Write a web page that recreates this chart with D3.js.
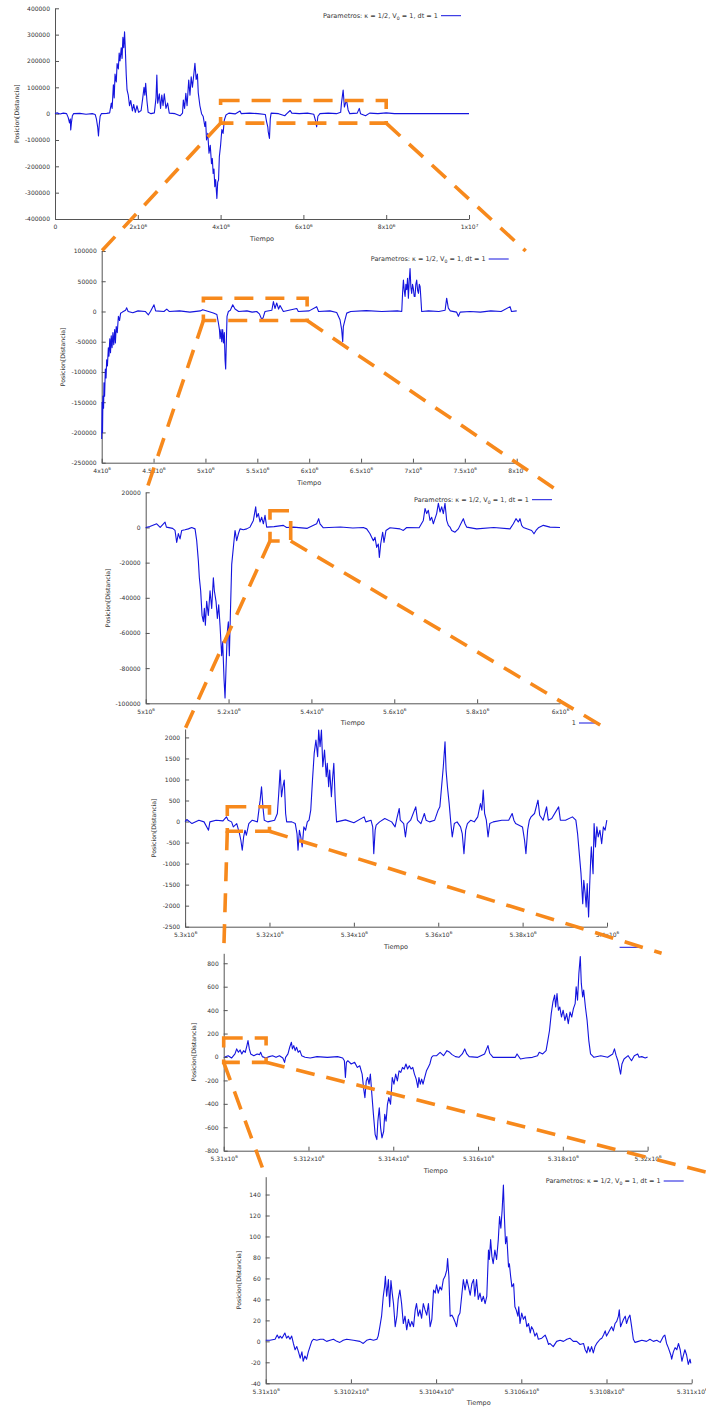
<!DOCTYPE html>
<html>
<head>
<meta charset="utf-8">
<script src="https://cdn.jsdelivr.net/npm/d3@7"></script>
<style>
body { margin: 0; background: #fff; }
svg { display: block; }
</style>
</head>
<body>
<svg id="chart" width="706" height="1407"></svg>
<script>
var walk1 = [[0,0],[0.05e6,3000],[0.12e6,-1000],[0.2e6,2000],[0.28e6,0],[0.32e6,-15000],[0.35e6,-35000],[0.37e6,-20000],[0.38e6,-62000],[0.40e6,-30000],[0.42e6,-8000],[0.45e6,0],[0.6e6,1000],[0.75e6,-2000],[0.9e6,0],[0.97e6,-3000],[1.00e6,-20000],[1.03e6,-50000],[1.05e6,-85000],[1.07e6,-40000],[1.09e6,-10000],[1.12e6,0],[1.25e6,1000],[1.32e6,3000],[1.36e6,40000],[1.38e6,20000],[1.41e6,110000],[1.43e6,60000],[1.45e6,150000],[1.48e6,120000],[1.50e6,190000],[1.53e6,170000],[1.55e6,230000],[1.57e6,200000],[1.60e6,250000],[1.62e6,210000],[1.64e6,290000],[1.66e6,250000],[1.68e6,311000],[1.70e6,240000],[1.72e6,150000],[1.74e6,90000],[1.77e6,70000],[1.80e6,30000],[1.83e6,50000],[1.87e6,10000],[1.90e6,35000],[1.94e6,5000],[1.98e6,30000],[2.02e6,5000],[2.08e6,12000],[2.12e6,60000],[2.15e6,100000],[2.17e6,70000],[2.19e6,115000],[2.22e6,50000],[2.25e6,5000],[2.32e6,0],[2.40e6,3000],[2.44e6,60000],[2.46e6,147000],[2.48e6,40000],[2.52e6,75000],[2.55e6,20000],[2.58e6,71000],[2.61e6,30000],[2.64e6,75000],[2.68e6,20000],[2.72e6,40000],[2.76e6,2000],[2.90e6,0],[3.02e6,-8000],[3.08e6,2000],[3.10e6,52000],[3.13e6,20000],[3.16e6,77000],[3.19e6,30000],[3.23e6,128000],[3.26e6,70000],[3.29e6,140000],[3.32e6,100000],[3.36e6,160000],[3.38e6,191000],[3.41e6,130000],[3.44e6,150000],[3.46e6,80000],[3.50e6,30000],[3.54e6,0],[3.58e6,-11000],[3.62e6,-49000],[3.64e6,-30000],[3.66e6,-100000],[3.69e6,-75000],[3.72e6,-150000],[3.75e6,-120000],[3.78e6,-190000],[3.80e6,-170000],[3.82e6,-227000],[3.84e6,-210000],[3.86e6,-277000],[3.88e6,-250000],[3.91e6,-322000],[3.93e6,-260000],[3.95e6,-252000],[3.97e6,-163000],[4.00e6,-120000],[4.03e6,-60000],[4.06e6,-75000],[4.09e6,-24000],[4.13e6,-5000],[4.2e6,2000],[4.35e6,-1000],[4.47e6,10000],[4.5e6,0],[4.7e6,2000],[4.9e6,0],[5.08e6,-3000],[5.11e6,-30000],[5.14e6,-50000],[5.15e6,-68000],[5.18e6,-94000],[5.20e6,-20000],[5.22e6,2000],[5.4e6,0],[5.55e6,-8000],[5.6e6,0],[5.68e6,12000],[5.72e6,2000],[5.9e6,0],[6.1e6,2000],[6.25e6,-2000],[6.29e6,-25000],[6.32e6,-50000],[6.35e6,-10000],[6.4e6,0],[6.6e6,2000],[6.8e6,0],[6.90e6,5000],[6.92e6,40000],[6.96e6,90000],[6.99e6,25000],[7.04e6,52000],[7.08e6,14000],[7.12e6,0],[7.3e6,2000],[7.35e6,20000],[7.38e6,0],[7.5e6,-8000],[7.6e6,2000],[7.8e6,0],[8.0e6,3000],[8.2e6,0],[1e7,0]];

var walk2 = [[4.000e6,-211000],[4.004e6,-150000],[4.008e6,-200000],[4.012e6,-140000],[4.018e6,-160000],[4.022e6,-118000],[4.028e6,-140000],[4.035e6,-95000],[4.042e6,-110000],[4.048e6,-80000],[4.055e6,-90000],[4.064e6,-60000],[4.070e6,-74000],[4.078e6,-45000],[4.085e6,-68000],[4.092e6,-40000],[4.100e6,-60000],[4.108e6,-35000],[4.116e6,-55000],[4.125e6,-30000],[4.132e6,-52000],[4.140e6,-25000],[4.150e6,-35000],[4.161e6,-8000],[4.172e6,-15000],[4.182e6,-3000],[4.200e6,-1000],[4.230e6,2000],[4.241e6,6000],[4.255e6,0],[4.300e6,-2000],[4.350e6,1000],[4.420e6,0],[4.450e6,-5500],[4.470e6,0],[4.504e6,11000],[4.520e6,1000],[4.600e6,0],[4.627e6,4000],[4.650e6,0],[4.750e6,1000],[4.850e6,-1000],[4.950e6,1000],[4.974e6,3000],[5.030e6,0],[5.076e6,-2500],[5.110e6,-5000],[5.125e6,-19000],[5.135e6,-30000],[5.141e6,-45000],[5.150e6,-30000],[5.157e6,-50000],[5.166e6,-30000],[5.173e6,-52000],[5.182e6,-35000],[5.189e6,-80000],[5.195e6,-95000],[5.202e6,-46000],[5.208e6,-8000],[5.221e6,0],[5.240e6,2000],[5.263e6,11000],[5.285e6,4000],[5.320e6,0],[5.400e6,1000],[5.450e6,-1000],[5.494e6,0],[5.520e6,-4000],[5.545e6,-14000],[5.558e6,-9000],[5.574e6,0],[5.640e6,2000],[5.655e6,16500],[5.670e6,5000],[5.687e6,14000],[5.705e6,4000],[5.719e6,10000],[5.751e6,0],[5.880e6,5000],[5.895e6,0],[6.000e6,1000],[6.072e6,8000],[6.090e6,0],[6.200e6,1000],[6.265e6,-1600],[6.297e6,-13700],[6.313e6,-30000],[6.323e6,-50000],[6.329e6,-25000],[6.345e6,-13700],[6.362e6,-2700],[6.400e6,0],[6.550e6,1500],[6.700e6,0],[6.850e6,1000],[6.892e6,0],[6.900e6,30000],[6.908e6,52000],[6.916e6,35000],[6.924e6,25000],[6.932e6,45000],[6.940e6,36000],[6.948e6,55000],[6.956e6,22000],[6.964e6,50000],[6.972e6,71000],[6.980e6,40000],[6.988e6,30000],[6.996e6,45000],[7.004e6,38000],[7.012e6,25000],[7.020e6,25000],[7.028e6,45000],[7.036e6,52000],[7.045e6,35000],[7.053e6,30000],[7.061e6,45000],[7.069e6,41000],[7.077e6,20000],[7.084e6,0],[7.150e6,1000],[7.250e6,0],[7.310e6,2000],[7.325e6,22000],[7.341e6,5500],[7.360e6,1000],[7.420e6,-1000],[7.438e6,-8000],[7.455e6,-1000],[7.550e6,0],[7.650e6,-1000],[7.750e6,1000],[7.850e6,0],[7.936e6,8000],[7.950e6,0],[8.000e6,1000]];

var walk3 = [[5.000e6,0],[5.010e6,500],[5.0265e6,2100],[5.035e6,0],[5.0467e6,3000],[5.050e6,200],[5.065e6,-500],[5.0708e6,-1700],[5.0748e6,-8500],[5.0788e6,-3500],[5.0829e6,-6500],[5.0869e6,-1700],[5.0949e6,-1300],[5.103e6,-800],[5.111e6,0],[5.1191e6,-800],[5.1231e6,-7500],[5.1271e6,-19000],[5.1295e6,-28600],[5.1327e6,-36000],[5.136e6,-50000],[5.1392e6,-53600],[5.1416e6,-46000],[5.144e6,-55600],[5.1472e6,-42000],[5.1512e6,-50000],[5.1553e6,-36000],[5.1593e6,-46000],[5.1633e6,-28600],[5.1657e6,-36000],[5.1697e6,-42000],[5.173e6,-51700],[5.1762e6,-44000],[5.1794e6,-55600],[5.1834e6,-72900],[5.1858e6,-65000],[5.1891e6,-86300],[5.1915e6,-97000],[5.1939e6,-80000],[5.1971e6,-59000],[5.1995e6,-53600],[5.2019e6,-72900],[5.2043e6,-50000],[5.2076e6,-21000],[5.2116e6,-11300],[5.2156e6,-1700],[5.2196e6,-7500],[5.2237e6,-3600],[5.2277e6,-800],[5.2357e6,-1300],[5.2438e6,-800],[5.2518e6,200],[5.2599e6,4000],[5.2655e6,11700],[5.2679e6,5800],[5.2719e6,7900],[5.2759e6,3100],[5.28e6,5800],[5.284e6,2100],[5.288e6,6900],[5.292e6,200],[5.31e6,500],[5.3323e6,1200],[5.34e6,0],[5.3564e6,200],[5.39e6,-500],[5.4127e6,2100],[5.4175e6,5000],[5.4207e6,2100],[5.4288e6,-200],[5.47e6,300],[5.5e6,-300],[5.5253e6,0],[5.5334e6,-800],[5.5414e6,-3600],[5.5495e6,-7500],[5.5535e6,-5600],[5.5575e6,-11300],[5.5615e6,-9400],[5.564e6,-17100],[5.5672e6,-9400],[5.572e6,-2700],[5.5752e6,-8500],[5.58e6,-1700],[5.5897e6,-200],[5.6138e6,-800],[5.6219e6,-1700],[5.63e6,0],[5.66e6,-200],[5.6701e6,4000],[5.6742e6,10800],[5.6782e6,7900],[5.6822e6,9800],[5.6862e6,4000],[5.6903e6,5800],[5.6943e6,2100],[5.6983e6,5000],[5.7023e6,7900],[5.7064e6,13700],[5.7104e6,8800],[5.7144e6,11700],[5.7184e6,7900],[5.7224e6,13700],[5.7265e6,4000],[5.7305e6,1200],[5.7345e6,200],[5.7385e6,-1700],[5.7466e6,-2700],[5.7546e6,-800],[5.7627e6,3100],[5.7667e6,5000],[5.7707e6,2100],[5.7747e6,200],[5.7989e6,-800],[5.84e6,0],[5.8793e6,-800],[5.8874e6,2100],[5.8938e6,5000],[5.8994e6,3100],[5.9034e6,5000],[5.9075e6,1200],[5.9115e6,0],[5.9316e6,-1700],[5.9372e6,-3600],[5.9421e6,-1700],[5.9477e6,-200],[5.9598e6,1200],[5.9759e6,200],[6.0e6,0]];

// the deeper zooms keep the time as an offset from their left edge
var base4 = 5.3e6;
var walk4 = [[0,0],[408,48],[1632,-48],[3264,32],[4488,-8],[5549,-206],[5875,-8],[7344,32],[8976,16],[9792,111],[10200,32],[11016,-8],[11424,-127],[12240,-48],[12893,-286],[13219,-445],[13546,-683],[13872,-365],[14198,-206],[14525,-326],[15096,-48],[15912,32],[17136,-8],[17789,508],[18115,826],[18442,349],[18768,32],[19584,-8],[21216,32],[21869,191],[22195,667],[22522,1223],[22848,588],[23174,826],[23501,985],[23827,191],[24072,-8],[25296,-8],[26112,-48],[26520,-286],[26765,-683],[27091,-206],[27418,-365],[27744,-603],[28152,-127],[28560,-206],[28968,-8],[29376,32],[29784,270],[30192,985],[30600,1620],[31008,1937],[31416,1540],[31661,2176],[31987,1779],[32314,2176],[32640,1302],[33048,1699],[33456,1064],[33701,1382],[34027,826],[34272,1223],[34680,588],[34925,985],[35251,1382],[35578,508],[35904,-8],[38000,40],[40000,-30],[42432,111],[42840,-8],[44064,32],[44472,-127],[44717,-762],[45043,-206],[45288,-87],[46104,-8],[47328,71],[48960,-8],[49776,-127],[50184,71],[50755,310],[51000,32],[51816,-48],[52224,-365],[52632,-48],[53448,32],[54672,349],[55080,32],[55896,-48],[56712,191],[57120,32],[57936,-8],[59160,32],[59976,270],[60384,349],[60792,826],[61200,1302],[61608,1898],[61853,1223],[62179,826],[62587,429],[62995,-48],[63322,-365],[63811,-48],[64464,-8],[65280,-127],[65688,-286],[66096,-762],[66504,-206],[66912,-48],[67728,32],[68544,-8],[69360,111],[70013,429],[70339,270],[70666,746],[70992,191],[71400,32],[71808,-365],[72216,-48],[73032,-8],[75072,32],[76704,32],[77520,191],[77928,32],[78336,-48],[79968,-127],[80458,-445],[80784,-762],[81192,-206],[81600,32],[82008,111],[82824,191],[83640,508],[84048,151],[84864,32],[85680,349],[86088,32],[86904,71],[88536,349],[88944,32],[90168,32],[91800,111],[92616,32],[93024,-286],[93432,-762],[93840,-1239],[94248,-1953],[94493,-1397],[94819,-1715],[95064,-2033],[95309,-1477],[95635,-2271],[95880,-1556],[96125,-921],[96288,-603],[96696,-1239],[96941,-48],[97267,-603],[97594,-127],[97920,-365],[98328,-206],[98736,-524],[99144,-127],[99552,-206],[99960,32]];

var base5 = 5.31e6;
var walk5 = [[24,0],[105,11],[185,-9],[266,26],[306,69],[347,40],[387,60],[427,26],[468,54],[508,40],[548,97],[573,140],[605,69],[637,26],[710,11],[790,26],[847,20],[871,40],[911,3],[992,-9],[1073,3],[1153,11],[1234,-3],[1315,11],[1395,-9],[1436,-46],[1460,-3],[1516,26],[1557,83],[1597,126],[1621,69],[1653,97],[1686,54],[1718,83],[1758,40],[1798,54],[1839,11],[1919,-3],[2040,-9],[2202,3],[2444,-3],[2686,3],[2807,-9],[2847,-32],[2871,-175],[2895,-46],[2928,-32],[3008,-60],[3089,-46],[3153,-89],[3210,-75],[3266,-146],[3299,-261],[3331,-347],[3363,-204],[3395,-175],[3428,-232],[3460,-146],[3492,-304],[3532,-490],[3573,-662],[3613,-705],[3637,-548],[3670,-433],[3702,-605],[3734,-691],[3774,-634],[3799,-490],[3831,-548],[3863,-404],[3895,-347],[3936,-404],[3976,-175],[4016,-232],[4057,-146],[4097,-204],[4137,-118],[4178,-132],[4218,-89],[4258,-103],[4299,-60],[4339,-103],[4379,-75],[4420,-103],[4460,-89],[4500,-146],[4541,-189],[4581,-261],[4605,-175],[4637,-232],[4670,-189],[4702,-232],[4742,-175],[4783,-118],[4823,-89],[4863,-60],[4903,-3],[4944,11],[5024,11],[5105,40],[5186,11],[5266,54],[5331,40],[5387,20],[5468,3],[5549,-3],[5629,26],[5686,69],[5734,26],[5791,3],[5992,-3],[6154,26],[6234,97],[6275,32],[6355,-3],[6637,-3],[6879,-3],[6920,26],[7000,-17],[7121,-9],[7283,-3],[7404,11],[7444,40],[7525,26],[7605,54],[7646,140],[7686,226],[7727,370],[7767,470],[7807,528],[7831,427],[7863,542],[7896,399],[7928,427],[7968,341],[8008,399],[8049,312],[8089,370],[8129,284],[8170,384],[8210,341],[8250,413],[8291,456],[8315,599],[8347,485],[8379,714],[8412,857],[8436,628],[8468,513],[8492,571],[8533,427],[8573,312],[8613,140],[8654,26],[8734,-3],[8896,11],[9057,-3],[9178,26],[9218,69],[9258,11],[9299,-32],[9363,-146],[9395,-60],[9444,-17],[9541,11],[9621,-32],[9686,11],[9766,26],[9799,-3],[9863,3],[9944,-9],[10000,0]];

var base6 = 5.31e6;
var walk6 = [[0,1],[10,1],[22,2],[27,6],[31,3],[34,5],[38,3],[41,5],[45,8],[49,3],[53,5],[57,2],[61,5],[65,-2],[69,-8],[73,-5],[77,-10],[81,-16],[85,-10],[88,-19],[92,-14],[96,-17],[100,-10],[104,-5],[108,0],[112,2],[120,1],[128,2],[135,2],[143,0],[151,1],[159,2],[167,0],[174,-1],[182,1],[190,2],[206,1],[221,0],[229,-2],[237,1],[245,2],[253,1],[261,2],[264,5],[268,14],[272,24],[276,43],[279,52],[281,62],[284,43],[288,59],[291,33],[294,58],[297,46],[300,36],[304,14],[308,24],[311,40],[315,49],[319,36],[323,17],[327,24],[331,11],[335,21],[339,14],[343,19],[347,14],[351,30],[354,36],[358,24],[362,30],[366,22],[370,36],[374,30],[378,25],[382,36],[386,14],[390,21],[394,49],[398,46],[401,54],[405,46],[409,52],[413,49],[417,59],[421,62],[425,68],[427,79],[430,62],[433,24],[437,25],[441,22],[444,19],[448,14],[452,24],[456,27],[460,43],[464,59],[468,49],[472,59],[476,52],[480,44],[484,55],[488,59],[491,43],[495,59],[499,40],[503,46],[507,38],[511,43],[515,36],[519,43],[523,87],[525,78],[528,97],[531,81],[534,74],[538,87],[542,78],[546,97],[549,119],[552,108],[555,125],[558,149],[560,122],[563,93],[566,100],[570,71],[572,74],[575,62],[578,52],[582,55],[585,33],[588,30],[592,24],[594,33],[597,17],[601,27],[605,21],[609,24],[613,14],[617,17],[621,8],[624,14],[628,11],[632,5],[636,8],[640,2],[648,3],[656,6],[660,2],[664,-3],[667,-2],[675,-5],[683,0],[691,1],[699,0],[707,2],[714,3],[722,0],[730,0],[738,-3],[746,-2],[750,-8],[754,-11],[757,-5],[761,-10],[765,-5],[769,-11],[773,-5],[777,-2],[785,2],[789,3],[793,6],[797,10],[800,5],[804,8],[808,11],[812,14],[816,10],[820,17],[824,19],[828,24],[830,30],[833,14],[836,17],[840,21],[844,24],[847,17],[851,22],[855,25],[859,14],[863,2],[867,-1],[875,0],[883,1],[894,0],[902,2],[910,0],[918,1],[926,-1],[934,5],[937,6],[941,-2],[945,-6],[951,-13],[953,-17],[957,-10],[961,-6],[965,-8],[969,-2],[973,-8],[977,-19],[980,-14],[984,-8],[988,-13],[992,-22],[996,-17],[998,-21]];

// tick values per zoom level
var xTicks1 = [0, 2e6, 4e6, 6e6, 8e6, 1e7];
var xTicks2 = [4e6, 4.5e6, 5e6, 5.5e6, 6e6, 6.5e6, 7e6, 7.5e6, 8e6];
var xTicks3 = [5e6, 5.2e6, 5.4e6, 5.6e6, 5.8e6, 6e6];
var xTicks4 = [5.3e6, 5.32e6, 5.34e6, 5.36e6, 5.38e6, 5.4e6];
var xTicks5 = [5.31e6, 5.312e6, 5.314e6, 5.316e6, 5.318e6, 5.32e6];
var xTicks6 = [5.31e6, 5.3102e6, 5.3104e6, 5.3106e6, 5.3108e6, 5.311e6];
var yTicks1 = [-400000, -300000, -200000, -100000, 0, 100000, 200000, 300000, 400000];
var yTicks2 = [-250000, -200000, -150000, -100000, -50000, 0, 50000, 100000];
var yTicks3 = [-100000, -80000, -60000, -40000, -20000, 0, 20000];
var yTicks4 = [-2500, -2000, -1500, -1000, -500, 0, 500, 1000, 1500, 2000];
var yTicks5 = [-800, -600, -400, -200, 0, 200, 400, 600, 800];
var yTicks6 = [-40, -20, 0, 20, 40, 60, 80, 100, 120, 140];

// window that each level zooms into (in the coordinates of that level)
var zoomBoxes = [
    { x: [4e6, 8e6], y: [-36000, 50000] },
    { x: [4.98e6, 5.98e6], y: [-15000, 22000] },
    { x: [5.3e6, 5.35e6], y: [-7700, 9500] },
    { x: [5.31e6, 5.32e6], y: [-230, 350] },
    { x: [5.31e6, 5.311e6], y: [-46, 162] }
];

var keyTitle = 'Parametros';

var panels = [
    { walk: walk1, base: 0, xDomain: [0, 1e7], yDomain: [-400000, 400000], xTicks: xTicks1, yTicks: yTicks1,
      left: 55, right: 469, top: 8.3, bottom: 219, key: 'full', keyDy: 7.4, ylabDx: 38, joinDx: 0 },
    { walk: walk2, base: 0, xDomain: [4e6, 8e6], yDomain: [-250000, 100000], xTicks: xTicks2, yTicks: yTicks2,
      left: 101.7, right: 516.7, top: 251, bottom: 462.7, key: 'full', keyDy: 8, ylabDx: 38.7, joinDx: 9 },
    { walk: walk3, base: 0, xDomain: [5e6, 6e6], yDomain: [-100000, 20000], xTicks: xTicks3, yTicks: yTicks3,
      left: 145.7, right: 560, top: 492.3, bottom: 703.3, key: 'full', keyDy: 7.4, ylabDx: 37.4, joinDx: 0 },
    { walk: walk4, base: base4, xDomain: [5.3e6, 5.4e6], yDomain: [-2500, 2200], xTicks: xTicks4, yTicks: yTicks4,
      left: 185.1, right: 607, top: 729, bottom: 926.7, key: '1', keyDy: -6, ylabDx: 31, joinDx: 0 },
    { walk: walk5, base: base5, xDomain: [5.31e6, 5.32e6], yDomain: [-800, 885], xTicks: xTicks5, yTicks: yTicks5,
      left: 223.7, right: 647.6, top: 953.3, bottom: 1150.7, key: '', keyDy: -6, ylabDx: 29.7, joinDx: 14 },
    { walk: walk6, base: base6, xDomain: [5.31e6, 5.311e6], yDomain: [-40, 157], xTicks: xTicks6, yTicks: yTicks6,
      left: 265.7, right: 691.7, top: 1176.7, bottom: 1383.3, key: 'full', keyDy: 4.3, ylabDx: 26.7, joinDx: 33 }
];

var font = 'DejaVu Sans';
var blue = '#1414de';
var orange = '#f7891c';
var ink = '#555';

var svg = d3.select('#chart');

// gnuplot style "5.3102x10^6"
function sciLabel(text, v) {
    text.text(null);
    if (v === 0) {
        text.text('0');
        return;
    }
    var e = Math.floor(Math.log10(Math.abs(v)) + 1e-9);
    var m = +(v / Math.pow(10, e)).toPrecision(6);
    text.append('tspan').text(m + 'x10');
    text.append('tspan').attr('font-size', 4.2).attr('dy', -2.6).text(e);
}

panels.forEach(function (p) {
    var x = d3.scaleLinear().domain(p.xDomain).range([p.left, p.right]);
    var y = d3.scaleLinear().domain(p.yDomain).range([p.bottom, p.top]);
    p.x = x;
    p.y = y;
    var g = svg.append('g');

    var xAxis = g.append('g')
        .attr('transform', 'translate(0,' + p.bottom + ')')
        .call(d3.axisBottom(x).tickValues(p.xTicks).tickSize(-4).tickSizeOuter(0).tickPadding(6));
    xAxis.selectAll('.tick text').each(function (v) { sciLabel(d3.select(this), v); });

    var yAxis = g.append('g')
        .attr('transform', 'translate(' + p.left + ',0)')
        .call(d3.axisLeft(y).tickValues(p.yTicks).tickSize(-4).tickSizeOuter(0).tickPadding(5)
            .tickFormat(function (d) { return String(d); }));

    [xAxis, yAxis].forEach(function (a) {
        a.attr('font-family', font).attr('font-size', 6).attr('color', ink);
        a.selectAll('text').attr('fill', '#333');
    });

    g.append('text')
        .attr('x', (p.left + p.right) / 2)
        .attr('y', p.bottom + 22)
        .attr('text-anchor', 'middle')
        .attr('font-family', font)
        .attr('font-size', 6.5)
        .attr('fill', '#333')
        .text('Tiempo');

    g.append('text')
        .attr('transform', 'translate(' + (p.left - p.ylabDx) + ',' + ((p.top + p.bottom) / 2) + ') rotate(-90)')
        .attr('dy', '0.35em')
        .attr('text-anchor', 'middle')
        .attr('font-family', font)
        .attr('font-size', 6.2)
        .attr('fill', '#333')
        .text('Posicion[Distancia]');

    var line = d3.line()
        .x(function (d) { return x(p.base + d[0]); })
        .y(function (d) { return y(d[1]); });
    g.append('path')
        .datum(p.walk)
        .attr('d', line)
        .attr('fill', 'none')
        .attr('stroke', blue)
        .attr('stroke-width', 1.1)
        .attr('stroke-linejoin', 'round');

    // key
    var ky = p.top + p.keyDy;
    g.append('line')
        .attr('x1', p.right - 28).attr('x2', p.right - 8)
        .attr('y1', ky).attr('y2', ky)
        .attr('stroke', blue).attr('stroke-width', 1);
    if (p.key) {
        var kt = g.append('text')
            .attr('x', p.right - 31)
            .attr('y', ky)
            .attr('dy', '0.35em')
            .attr('text-anchor', 'end')
            .attr('font-family', font)
            .attr('font-size', 6.5)
            .attr('fill', '#333');
        if (p.key === 'full') {
            kt.append('tspan').text(keyTitle + ': \u03ba = 1/2, V');
            kt.append('tspan').attr('font-size', 4.6).attr('dy', 1.7).text('0');
            kt.append('tspan').attr('dy', -1.7).text(' = 1, dt = 1');
        } else {
            kt.text(p.key);
        }
    }
});

// zoom windows and the guides down to the next level
var over = svg.append('g')
    .attr('fill', 'none')
    .attr('stroke', orange)
    .attr('stroke-width', 3.6)
    .attr('stroke-dasharray', '19,12');

zoomBoxes.forEach(function (b, i) {
    var p = panels[i];
    var q = panels[i + 1];
    var x0 = p.x(b.x[0]), x1 = p.x(b.x[1]);
    var yb = p.y(b.y[0]), yt = p.y(b.y[1]);
    over.append('path')
        .attr('d', 'M' + x0 + ',' + yt + 'H' + x1 + 'V' + yb + 'H' + x0 + 'Z');
    over.append('line')
        .attr('x1', x0).attr('y1', yb)
        .attr('x2', q.left).attr('y2', q.top);
    over.append('line')
        .attr('x1', x1).attr('y1', yb)
        .attr('x2', q.right + q.joinDx).attr('y2', q.top);
});
</script>
</body>
</html>
